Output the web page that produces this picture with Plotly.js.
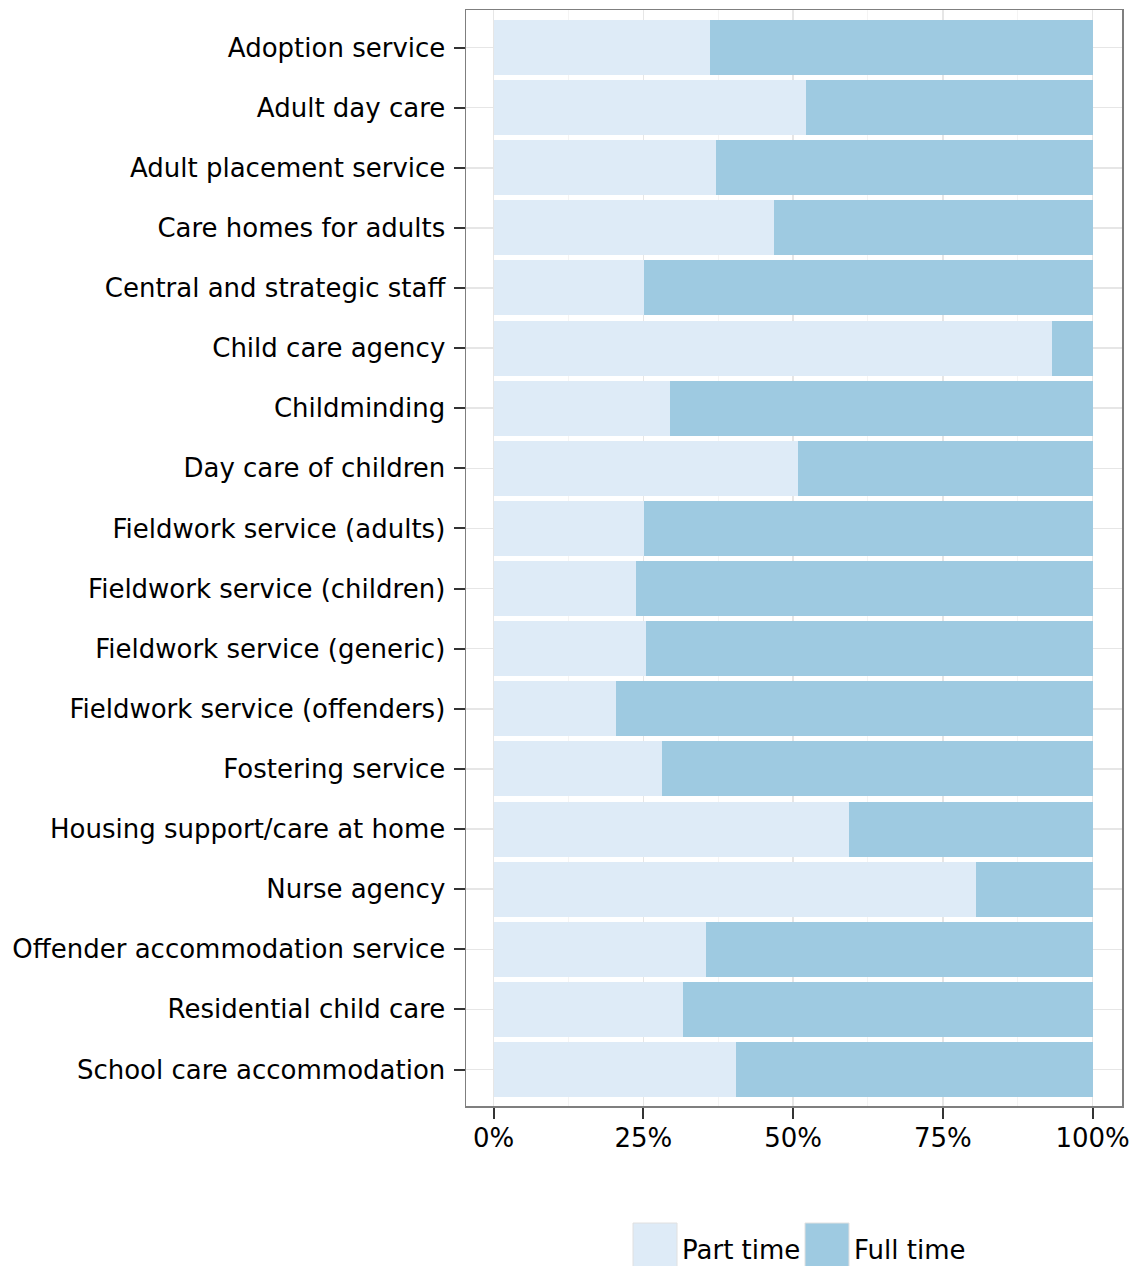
<!DOCTYPE html>
<html>
<head>
<meta charset="utf-8">
<script src="https://cdn.plot.ly/plotly-3.0.1.min.js"></script>
<style>html,body{margin:0;padding:0;background:#fff;}#chart{width:1139px;height:1266px;}</style>
</head>
<body>
<div id="chart"></div>
<script>
const categories = [
  "Adoption service",
  "Adult day care",
  "Adult placement service",
  "Care homes for adults",
  "Central and strategic staff",
  "Child care agency",
  "Childminding",
  "Day care of children",
  "Fieldwork service (adults)",
  "Fieldwork service (children)",
  "Fieldwork service (generic)",
  "Fieldwork service (offenders)",
  "Fostering service",
  "Housing support/care at home",
  "Nurse agency",
  "Offender accommodation service",
  "Residential child care",
  "School care accommodation"
];
const partTime = [36.1, 52.1, 37.1, 46.8, 25.1, 93.2, 29.4, 50.8, 25.1, 23.7, 25.4, 20.4, 28.1, 59.4, 80.5, 35.4, 31.7, 40.4];
const fullTime = [63.9, 47.9, 62.9, 53.2, 74.9, 6.8, 70.6, 49.2, 74.9, 76.3, 74.6, 79.6, 71.9, 40.6, 19.5, 64.6, 68.3, 59.6];
const seriesNames = ["Part time", "Full time"];
const seriesColors = ["#deebf7", "#9ecae1"];
const xTickVals = [0, 25, 50, 75, 100];
const xTickText = ["0%", "25%", "50%", "75%", "100%"];

const W = 1139, H = 1266;
const M = {l: 466, r: 17, t: 10, b: 160};
const pw = W - M.l - M.r, ph = H - M.t - M.b;
const px2x = p => (p - M.l) / pw;
const px2y = p => (H - M.b - p) / ph;

const FONT = "DejaVu Sans, Verdana, sans-serif";
const FS = 26;

const traces = [partTime, fullTime].map((vals, i) => ({
  type: "bar",
  orientation: "h",
  name: seriesNames[i],
  y: categories,
  x: vals,
  width: 0.915,
  marker: {color: seriesColors[i], line: {width: 0}},
  showlegend: false,
  hoverinfo: "x+y"
}));

// legend (big square keys like ggplot)
const shapes = [];
const annotations = [];
const keyX = [633, 805];
seriesNames.forEach((n, i) => {
  shapes.push({
    type: "rect", xref: "paper", yref: "paper",
    x0: px2x(keyX[i]), x1: px2x(keyX[i] + 44),
    y0: px2y(1223), y1: px2y(1268),
    fillcolor: seriesColors[i], line: {color: "#e0e0e0", width: 1}
  });
  annotations.push({
    xref: "paper", yref: "paper",
    x: px2x(keyX[i] + 47), y: px2y(1250),
    xanchor: "left", yanchor: "middle",
    text: n, showarrow: false,
    font: {family: FONT, size: FS, color: "#000"}
  });
});

const layout = {
  width: W, height: H,
  margin: M,
  paper_bgcolor: "#fff",
  plot_bgcolor: "#fff",
  barmode: "stack",
  showlegend: false,
  font: {family: FONT, size: FS, color: "#000"},
  xaxis: {
    range: [-4.6, 104.9],
    tickvals: xTickVals,
    ticktext: xTickText,
    ticks: "outside", ticklen: 11, tickwidth: 2, tickcolor: "#333",
    showgrid: true, gridcolor: "#e6e6e6", gridwidth: 1.5,
    minor: {tickvals: [12.5, 37.5, 62.5, 87.5], showgrid: true, gridcolor: "#f4f4f4", gridwidth: 1, ticks: ""},
    showline: true, linecolor: "#7f7f7f", linewidth: 1.5, mirror: true,
    zeroline: false,
    tickfont: {family: FONT, size: FS, color: "#000"},
    ticklabelstandoff: -3
  },
  yaxis: {
    type: "category",
    categoryorder: "array",
    categoryarray: categories,
    range: [17.607, -0.624],
    ticks: "outside", ticklen: 11, tickwidth: 2, tickcolor: "#333",
    showgrid: true, gridcolor: "#e6e6e6", gridwidth: 1.5,
    showline: true, linecolor: "#7f7f7f", linewidth: 1.5, mirror: true,
    zeroline: false,
    tickfont: {family: FONT, size: FS, color: "#000"},
    ticklabelstandoff: 3
  },
  shapes: shapes,
  annotations: annotations
};

Plotly.newPlot("chart", traces, layout, {displayModeBar: false, staticPlot: true});
</script>
</body>
</html>
